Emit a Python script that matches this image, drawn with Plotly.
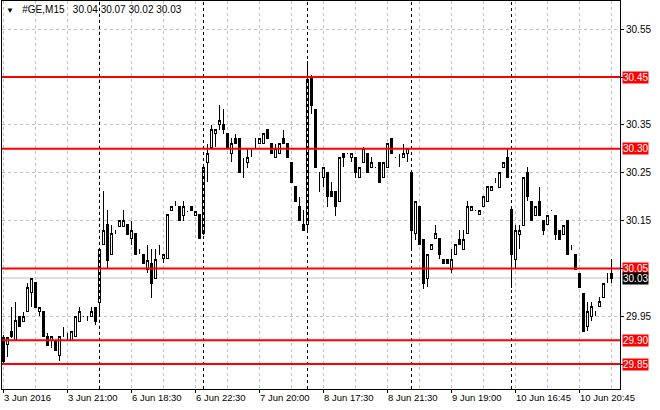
import plotly.graph_objects as go

# GE, M15 bars, 3 Jun 2016 17:00 .. 10 Jun 2016 22:45 (one list row per trading day)
opens = [
    29.905, 29.89, 29.919, 29.90, 29.95, 29.94, 29.96, 30.00, 30.02, 29.96, 29.961, 29.907,
    29.90, 29.90, 29.867, 29.92, 29.91, 29.90, 29.907, 29.94, 29.95, 29.95, 29.95, 29.969,
    29.978, 30.10, 30.141, 30.08, 30.13, 30.138, 30.138, 30.141, 30.113, 30.122, 30.09, 30.08, 30.048,
    30.061, 30.029, 30.08, 30.071, 30.071, 30.171, 30.19, 30.18, 30.16, 30.17, 30.18, 30.16, 30.162,
    30.122, 30.272, 30.303, 30.332, 30.35, 30.35, 30.332, 30.29, 30.322, 30.322, 30.272, 30.272, 30.29,
    30.303, 30.311, 30.311, 30.34, 30.311, 30.282, 30.29, 30.322, 30.311, 30.272, 30.222, 30.18, 30.141,
    30.141, 30.447, 30.383, 30.25, 30.24, 30.25, 30.21, 30.21, 30.19, 30.29, 30.29, 30.282, 30.282,
    30.24, 30.272, 30.29, 30.261, 30.261, 30.272, 30.24, 30.261, 30.322, 30.282, 30.272, 30.282, 30.29,
    30.25, 30.122, 30.18, 30.11, 30.029, 30.09, 30.113, 30.113, 30.069, 30.069, 30.048, 30.08, 30.11,
    30.09, 30.122, 30.171, 30.171, 30.162, 30.18, 30.19, 30.212, 30.23, 30.22, 30.261, 30.282,
    30.173, 30.069, 30.12, 30.14, 30.25, 30.19, 30.16, 30.19, 30.15, 30.141, 30.171, 30.16, 30.13,
    30.12, 30.15, 30.09, 30.08, 30.04, 29.998, 29.928, 29.95, 29.96, 29.97, 29.99, 30.029, 30.04,
]
highs = [
    29.91, 29.905, 29.969, 29.98, 29.95, 29.96, 30.02, 30.03, 30.02, 29.969, 29.961, 29.915,
    29.907, 29.90, 29.907, 29.928, 29.915, 29.918, 29.95, 29.969, 29.95, 29.95, 29.969, 29.969,
    30.09, 30.212, 30.173, 30.141, 30.13, 30.15, 30.173, 30.141, 30.15, 30.122, 30.09, 30.08, 30.10,
    30.09, 30.09, 30.10, 30.08, 30.162, 30.18, 30.19, 30.18, 30.19, 30.17, 30.18, 30.17, 30.162,
    30.26, 30.311, 30.35, 30.34, 30.391, 30.383, 30.332, 30.322, 30.332, 30.322, 30.28, 30.30, 30.30,
    30.322, 30.322, 30.332, 30.34, 30.311, 30.311, 30.311, 30.34, 30.311, 30.272, 30.222, 30.20, 30.173,
    30.483, 30.455, 30.383, 30.25, 30.261, 30.25, 30.231, 30.21, 30.282, 30.29, 30.29, 30.29, 30.282,
    30.261, 30.303, 30.29, 30.282, 30.261, 30.272, 30.272, 30.311, 30.322, 30.282, 30.29, 30.311, 30.30,
    30.25, 30.19, 30.18, 30.11, 30.08, 30.10, 30.141, 30.113, 30.069, 30.069, 30.09, 30.10, 30.13,
    30.13, 30.19, 30.18, 30.171, 30.171, 30.20, 30.222, 30.222, 30.24, 30.25, 30.272, 30.30,
    30.173, 30.141, 30.141, 30.24, 30.261, 30.19, 30.18, 30.22, 30.15, 30.16, 30.171, 30.16, 30.13,
    30.14, 30.15, 30.10, 30.08, 30.04, 29.998, 29.98, 29.98, 29.96, 29.99, 30.019, 30.04, 30.07,
]
lows = [
    29.85, 29.865, 29.905, 29.90, 29.928, 29.94, 29.96, 29.969, 29.969, 29.95, 29.907, 29.889,
    29.883, 29.878, 29.857, 29.907, 29.90, 29.90, 29.907, 29.94, 29.95, 29.94, 29.95, 29.932,
    29.95, 30.10, 30.048, 30.08, 30.121, 30.138, 30.138, 30.121, 30.10, 30.08, 30.08, 30.061, 30.04,
    29.988, 30.029, 30.08, 30.061, 30.071, 30.171, 30.18, 30.15, 30.15, 30.17, 30.171, 30.16, 30.113,
    30.12, 30.23, 30.303, 30.303, 30.34, 30.332, 30.303, 30.272, 30.311, 30.25, 30.24, 30.26, 30.282,
    30.303, 30.311, 30.311, 30.322, 30.29, 30.282, 30.29, 30.311, 30.282, 30.23, 30.19, 30.15, 30.129,
    30.13, 30.372, 30.26, 30.21, 30.22, 30.179, 30.20, 30.16, 30.19, 30.261, 30.29, 30.272, 30.24,
    30.24, 30.272, 30.25, 30.261, 30.261, 30.23, 30.24, 30.261, 30.29, 30.282, 30.261, 30.282, 30.272,
    30.087, 30.11, 30.10, 30.008, 30.011, 30.09, 30.113, 30.069, 30.061, 30.061, 30.04, 30.08, 30.10,
    30.09, 30.122, 30.171, 30.171, 30.162, 30.18, 30.19, 30.212, 30.23, 30.22, 30.261, 30.24,
    30.01, 30.048, 30.09, 30.14, 30.19, 30.15, 30.16, 30.16, 30.12, 30.141, 30.171, 30.11, 30.11,
    30.12, 30.08, 30.09, 30.048, 30.011, 29.918, 29.92, 29.94, 29.95, 29.97, 29.99, 30.019, 30.02,
]
closes = [
    29.855, 29.905, 29.907, 29.942, 29.928, 29.95, 30.011, 30.029, 29.969, 29.969, 29.907, 29.889,
    29.907, 29.878, 29.907, 29.92, 29.91, 29.918, 29.95, 29.96, 29.95, 29.95, 29.961, 29.939,
    30.09, 30.13, 30.067, 30.122, 30.13, 30.15, 30.15, 30.121, 30.13, 30.08, 30.09, 30.061, 30.067,
    30.019, 30.069, 30.08, 30.08, 30.162, 30.18, 30.19, 30.15, 30.18, 30.17, 30.171, 30.17, 30.113,
    30.26, 30.29, 30.34, 30.34, 30.36, 30.34, 30.303, 30.311, 30.311, 30.25, 30.272, 30.282, 30.29,
    30.303, 30.322, 30.332, 30.322, 30.29, 30.30, 30.311, 30.311, 30.282, 30.23, 30.19, 30.15, 30.129,
    30.444, 30.39, 30.261, 30.25, 30.261, 30.20, 30.20, 30.179, 30.282, 30.282, 30.29, 30.29, 30.25,
    30.261, 30.30, 30.25, 30.272, 30.261, 30.23, 30.272, 30.311, 30.29, 30.282, 30.272, 30.29, 30.30,
    30.129, 30.19, 30.10, 30.019, 30.08, 30.10, 30.122, 30.08, 30.061, 30.061, 30.069, 30.10, 30.10,
    30.11, 30.18, 30.18, 30.171, 30.171, 30.20, 30.222, 30.222, 30.23, 30.25, 30.272, 30.24,
    30.08, 30.13, 30.13, 30.24, 30.20, 30.15, 30.18, 30.16, 30.129, 30.16, 30.171, 30.12, 30.11,
    30.14, 30.08, 30.09, 30.048, 30.011, 29.918, 29.96, 29.97, 29.96, 29.98, 30.019, 30.029, 30.03,
]

bars_per_day = [24, 26, 26, 26, 25, 26]
label_bars = [0, 16, 32, 48, 64, 80, 96, 112, 128, 144]
label_text = ["3 Jun 2016", "3 Jun 21:00", "6 Jun 18:30", "6 Jun 22:30", "7 Jun 20:00",
              "8 Jun 17:30", "8 Jun 21:30", "9 Jun 19:00", "10 Jun 16:45", "10 Jun 20:45"]
price_ticks = [29.85, 29.95, 30.05, 30.15, 30.25, 30.35, 30.45, 30.55]
levels = [30.45, 30.30, 30.05, 29.90, 29.85]

FONT = "Liberation Sans"
x = list(range(len(closes)))

fig = go.Figure()
fig.add_trace(go.Candlestick(
    x=x, open=opens, high=highs, low=lows, close=closes,
    increasing=dict(line=dict(color="black", width=1), fillcolor="white"),
    decreasing=dict(line=dict(color="black", width=1), fillcolor="black"),
    whiskerwidth=0, showlegend=False, hoverinfo="skip"))

# period separators (start of each trading day)
start = 0
for n in bars_per_day[:-1]:
    start += n
    fig.add_shape(type="line", xref="x", yref="paper", x0=start, x1=start, y0=0, y1=1,
                  line=dict(color="black", width=1, dash="3px,3px"), layer="above")

# bid line
fig.add_shape(type="line", xref="paper", yref="y", x0=0, x1=1, y0=closes[-1], y1=closes[-1],
              line=dict(color="#c0c0c0", width=1), layer="below")

# horizontal levels + price tags
for lv in levels:
    fig.add_shape(type="line", xref="paper", yref="y", x0=0, x1=1, y0=lv, y1=lv,
                  line=dict(color="#ff0000", width=2), layer="above")
    fig.add_annotation(xref="paper", yref="y", x=1, y=lv, text=f"{lv:.2f}", showarrow=False,
                       xanchor="left", xshift=2, bgcolor="#ff0000", borderpad=0,
                       font=dict(family=FONT, size=10, color="white"))

fig.add_annotation(xref="paper", yref="y", x=1, y=closes[-1], text=f"{closes[-1]:.2f}",
                   showarrow=False, xanchor="left", xshift=2, bgcolor="black", borderpad=0,
                   font=dict(family=FONT, size=10, color="white"))

# time labels, left aligned on their tick like the terminal does
for b, t in zip(label_bars, label_text):
    fig.add_annotation(xref="x", yref="paper", x=b, y=0, text=t, showarrow=False,
                       xanchor="left", yanchor="top", xshift=-2, yshift=-1,
                       font=dict(family=FONT, size=9.5, color="black"))

fig.add_annotation(xref="paper", yref="paper", x=0, y=1, xanchor="left", yanchor="top",
                   xshift=2, yshift=-1, showarrow=False,
                   text=f"<span style='font-size:8px'>▼</span>\u00a0\u00a0 #GE,M15\u00a0\u00a0 {opens[-1]:.2f} {highs[-1]:.2f} {lows[-1]:.2f} {closes[-1]:.2f}",
                   font=dict(family=FONT, size=10, color="black"))

fig.update_layout(
    width=660, height=410,
    margin=dict(l=2, r=40, t=1, b=21),
    paper_bgcolor="white", plot_bgcolor="white",
    boxgap=0.5,
    font=dict(family=FONT, size=10, color="black"),
    xaxis=dict(range=[-0.375, len(closes) + 1.125], rangeslider=dict(visible=False),
               tick0=0, dtick=16, ticks="outside", ticklen=3, tickcolor="black",
               showticklabels=False, showgrid=True, gridcolor="#c0c0c0", griddash="3px,3px",
               minor=dict(tick0=0, dtick=8, showgrid=True, gridcolor="#c0c0c0", griddash="3px,3px"),
               showline=True, linecolor="black", mirror=True, zeroline=False),
    yaxis=dict(range=[29.798, 30.609], side="right",
               tickvals=price_ticks,
               ticktext=["" if p in levels else f"{p:.2f}" for p in price_ticks],
               ticks="outside", ticklen=3, tickcolor="black",
               showgrid=True, gridcolor="#c0c0c0", griddash="3px,3px",
               showline=True, linecolor="black", mirror=True, zeroline=False),
)

# the page has a default 8px body margin; drop it so the chart sits at 0,0 like the terminal window,
# and draw the candles pixel-sharp like the terminal does
js = ("document.body.style.margin='0px';"
      "document.querySelectorAll('.boxlayer path').forEach(function(p){p.style.shapeRendering='crispEdges';});")
fig.write_html("out.html", post_script=js, config={"displayModeBar": False})
